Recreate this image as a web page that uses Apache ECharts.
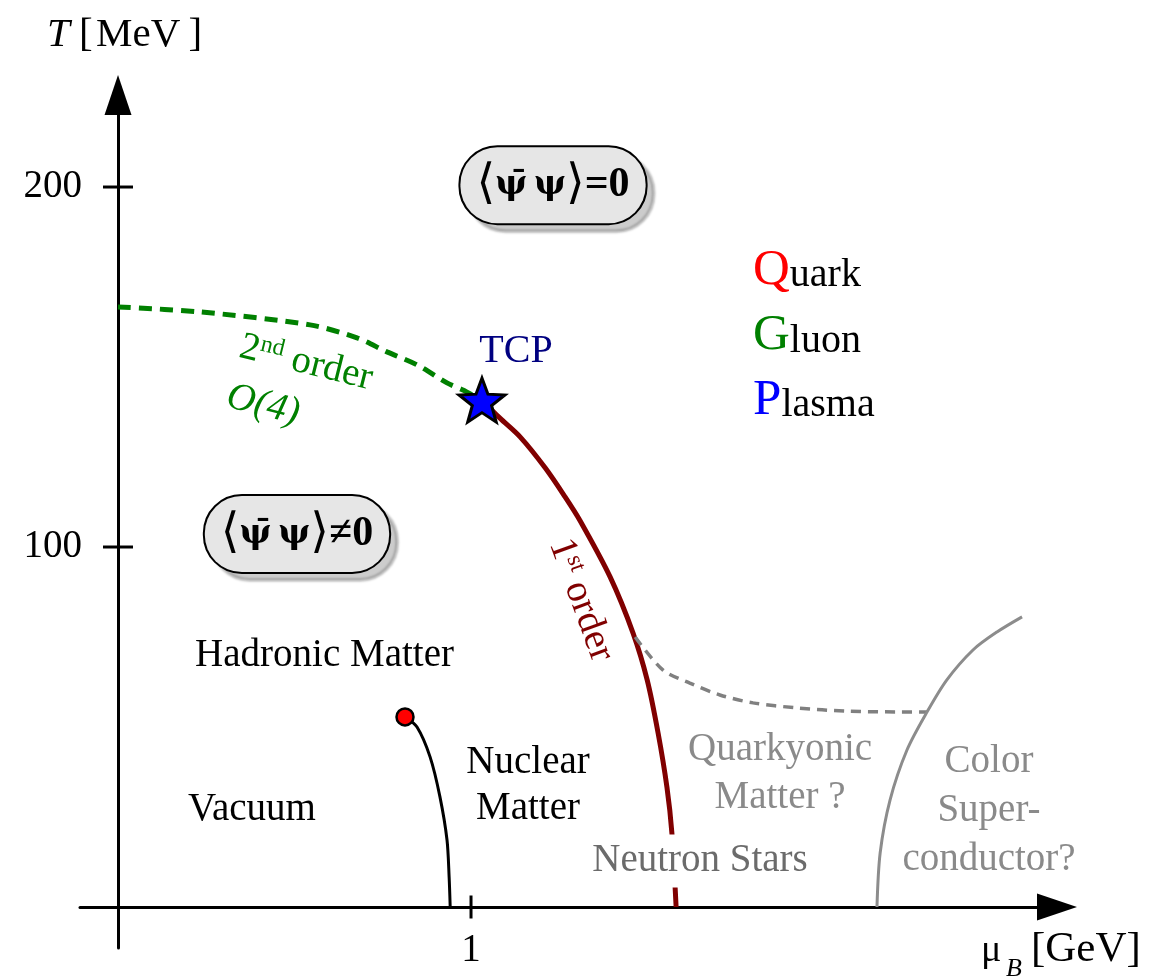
<!DOCTYPE html>
<html>
<head>
<meta charset="utf-8">
<title>QCD phase diagram</title>
<script src="https://cdn.jsdelivr.net/npm/echarts@6/dist/echarts.min.js"></script>
<style>
  html, body { margin: 0; padding: 0; background: #fff; }
  #chart { width: 1175px; height: 980px; }
</style>
</head>
<body>
<div id="chart"></div>
<script>
// 相图的线 (x: mu_B [GeV], y: T [MeV])
const secondOrderLine = [[0, 166.7], [0.232, 165.3], [0.544, 161.7], [0.677, 158.1], [0.762, 154.2],
  [0.847, 150.6], [0.932, 145.6], [0.977, 143.6], [1.031, 140.8]];
const firstOrderLine = [[1.031, 140.8], [1.082, 135.8], [1.139, 130.6], [1.210, 122.0], [1.266, 114.0],
  [1.309, 107.3], [1.394, 91.7], [1.459, 76.1], [1.499, 63.1], [1.530, 48.3], [1.555, 33.3],
  [1.569, 20.6], [1.581, 0]];
const quarkyonicLine = [[1.465, 75.0], [1.544, 65.8], [1.620, 62.2], [1.705, 58.9], [1.799, 56.7],
  [1.924, 55.3], [2.065, 54.4], [2.207, 54.2], [2.292, 54.2]];
const superconductorLine = [[2.150, 0], [2.159, 15.0], [2.187, 29.7], [2.235, 43.6], [2.292, 54.2],
  [2.348, 63.1], [2.422, 71.4], [2.490, 76.4], [2.561, 80.6]];
const liquidGasLine = [[0.813, 52.8], [0.847, 50.0], [0.884, 41.7], [0.912, 30.6], [0.932, 18.6],
  [0.938, 8.3], [0.941, 0]];

// 特殊点
const tricriticalPoint = [1.031, 140.8];
const criticalEndPoint = [0.813, 52.8];

// 刻度
const xTicks = [1];
const yTicks = [100, 200];

const X_MIN = -0.1077, X_MAX = 2.660;
const Y_MIN = -11.39, Y_MAX = 225.56;

const SERIF = '"Liberation Serif", "DejaVu Serif", serif';
const DEJAVU = '"DejaVu Serif", serif';

function starPath() {
  const pts = [];
  for (let i = 0; i < 10; i++) {
    const a = Math.PI / 2 + i * Math.PI / 5;
    const r = i % 2 === 0 ? 50 : 21;
    pts.push((50 + r * Math.cos(a)).toFixed(2) + ',' + (50 - r * Math.sin(a)).toFixed(2));
  }
  return 'path://M' + pts.join('L') + 'Z';
}

function note(pos, text, style) {
  return {
    value: pos,
    label: Object.assign({
      show: true, position: 'inside', formatter: text,
      fontFamily: SERIF, fontSize: 39, color: '#000'
    }, style || {})
  };
}

function tok(color, size, extra) {
  return Object.assign({ color: color, fontSize: size, fontFamily: SERIF, verticalAlign: 'bottom' }, extra || {});
}

const BOX = {
  backgroundColor: '#e6e6e6',
  borderColor: '#000', borderWidth: 2, borderRadius: 37, padding: [14, 16],
  shadowColor: 'rgba(0,0,0,0.2)', shadowOffsetX: 8, shadowOffsetY: 8, shadowBlur: 2,
  rich: {
    br: tok('#000', 48, { fontFamily: DEJAVU, verticalAlign: 'middle' }),
    p: tok('#000', 34, { fontWeight: 'bold', fontFamily: DEJAVU, verticalAlign: 'middle' }),
    b: tok('#000', 42, { fontWeight: 'bold', verticalAlign: 'middle' })
  }
};

const notes = [
  note([1.2323, 200.5], '{br|\u27e8}{p|\u03c8\u0304\u2009\u03c8}{br|\u27e9}{b|=0}', BOX),
  note([0.507, 103.6], '{br|\u27e8}{p|\u03c8\u0304\u2009\u03c8}{br|\u27e9}{b|\u22600}', BOX),
  note([1.1275, 154.2], 'TCP', { color: '#000080', fontSize: 40 }),
  note([0.5326, 151.1], '{n|2}{s|nd}{n| order}', {
    rotate: -14,
    rich: { n: tok('#008000', 39), s: tok('#008000', 24, { verticalAlign: 'top' }) }
  }),
  note([0.4108, 139.4], 'O(4)', { rotate: -14, color: '#008000', fontStyle: 'italic' }),
  note([1.3116, 85.3], '{n|1}{s|st}{n| order}', {
    rotate: -70,
    rich: { n: tok('#800000', 39), s: tok('#800000', 24, { verticalAlign: 'top' }) }
  }),
  note([0.585, 69.7], 'Hadronic Matter'),
  note([0.3796, 26.9], 'Vacuum'),
  note([1.1615, 33.6], 'Nuclear\nMatter', { lineHeight: 46 }),
  note([1.6487, 12.8], 'Neutron Stars', { color: '#6b6b6b', backgroundColor: '#fff', padding: [7, 3] }),
  note([1.8754, 37.0], 'Quarkyonic\nMatter ?', { color: '#8a8a8a', lineHeight: 48 }),
  note([2.4674, 26.7], 'Color\nSuper-\nconductor?', { color: '#8a8a8a', lineHeight: 49 }),
  note([1.7989, 176.9], '{q|Q}{r|uark}', { position: 'right', distance: 0, rich: { q: tok('#ff0000', 51), r: tok('#000', 40) } }),
  note([1.7989, 158.6], '{q|G}{r|luon}', { position: 'right', distance: 0, rich: { q: tok('#008000', 51), r: tok('#000', 40) } }),
  note([1.7989, 140.8], '{q|P}{r|lasma}', { position: 'right', distance: 0, rich: { q: tok('#0000ff', 51), r: tok('#000', 40) } })
];

function curve(name, data, color, width, type) {
  return {
    name: name, type: 'line', data: data, smooth: 0.3,
    showSymbol: false, silent: true, z: 2,
    lineStyle: { color: color, width: width, type: type || 'solid', cap: 'butt', opacity: 1 }
  };
}

// 刻度线穿过坐标轴, 刻度数字挂在刻度上
const tickLabel = { show: true, fontFamily: SERIF, fontSize: 39, color: '#000' };
const tickMarks = yTicks.map(v => ({
  value: [0, v], symbolSize: [30, 3],
  label: Object.assign({ position: 'left', distance: 21, formatter: String(v) }, tickLabel)
})).concat(xTicks.map(v => ({
  value: [v, 0], symbolSize: [3, 23],
  label: Object.assign({ position: 'bottom', distance: 13, formatter: String(v) }, tickLabel)
})));

const chart = echarts.init(document.getElementById('chart'));
chart.setOption({
  animation: false,
  backgroundColor: '#fff',
  grid: { left: 80, right: 118, top: 95, bottom: 32, containLabel: false, outerBoundsMode: 'none' },
  xAxis: {
    type: 'value', min: X_MIN, max: X_MAX,
    axisLine: { onZero: true, lineStyle: { color: '#000', width: 3 }, symbol: ['none', 'triangle'], symbolSize: [27, 40] },
    axisTick: { show: false },
    splitLine: { show: false },
    axisLabel: { show: false }
  },
  yAxis: {
    type: 'value', min: Y_MIN, max: Y_MAX,
    axisLine: { onZero: true, lineStyle: { color: '#000', width: 3 }, symbol: ['none', 'triangle'], symbolSize: [27, 40] },
    axisTick: { show: false },
    splitLine: { show: false },
    axisLabel: { show: false }
  },
  graphic: [
    { type: 'text', x: 47, y: 35, silent: true,
      style: { text: 'T', font: 'italic 41px ' + SERIF, fill: '#000', verticalAlign: 'middle' } },
    { type: 'text', x: 79, y: 35, silent: true,
      style: { text: '[\u200aMeV\u2009]', font: '41px ' + SERIF, fill: '#000', verticalAlign: 'middle' } },
    { type: 'text', x: 981, y: 951, silent: true,
      style: { text: '\u03bc', font: '38px ' + SERIF, fill: '#000', verticalAlign: 'middle' } },
    { type: 'text', x: 1006, y: 969, silent: true,
      style: { text: 'B', font: 'italic 26px ' + SERIF, fill: '#000', verticalAlign: 'middle' } },
    { type: 'text', x: 1031, y: 950, silent: true,
      style: { text: '[GeV]', font: '43px ' + SERIF, fill: '#000', verticalAlign: 'middle' } }
  ],
  series: [
    curve('2nd order', secondOrderLine, '#008000', 5, [13, 8]),
    curve('1st order', firstOrderLine, '#800000', 5),
    curve('quarkyonic', quarkyonicLine, '#808080', 3.5, [10, 7]),
    curve('superconductor', superconductorLine, '#8c8c8c', 3),
    curve('liquid-gas', liquidGasLine, '#000', 3),
    {
      type: 'scatter', silent: true, z: 3, symbol: 'rect', clip: false,
      itemStyle: { color: '#000', opacity: 1 }, data: tickMarks
    },
    {
      type: 'scatter', silent: true, z: 12, data: notes,
      symbolSize: 0, itemStyle: { color: 'transparent', opacity: 1 }
    },
    {
      type: 'scatter', silent: true, z: 14,
      itemStyle: { opacity: 1 },
      data: [
        { value: tricriticalPoint, symbol: starPath(), symbolSize: [46, 44],
          itemStyle: { color: '#0000ff', borderColor: '#000', borderWidth: 3, opacity: 1 } },
        { value: criticalEndPoint, symbol: 'circle', symbolSize: 17,
          itemStyle: { color: '#ff0000', borderColor: '#000', borderWidth: 2.5, opacity: 1 } }
      ]
    }
  ]
});
</script>
</body>
</html>
